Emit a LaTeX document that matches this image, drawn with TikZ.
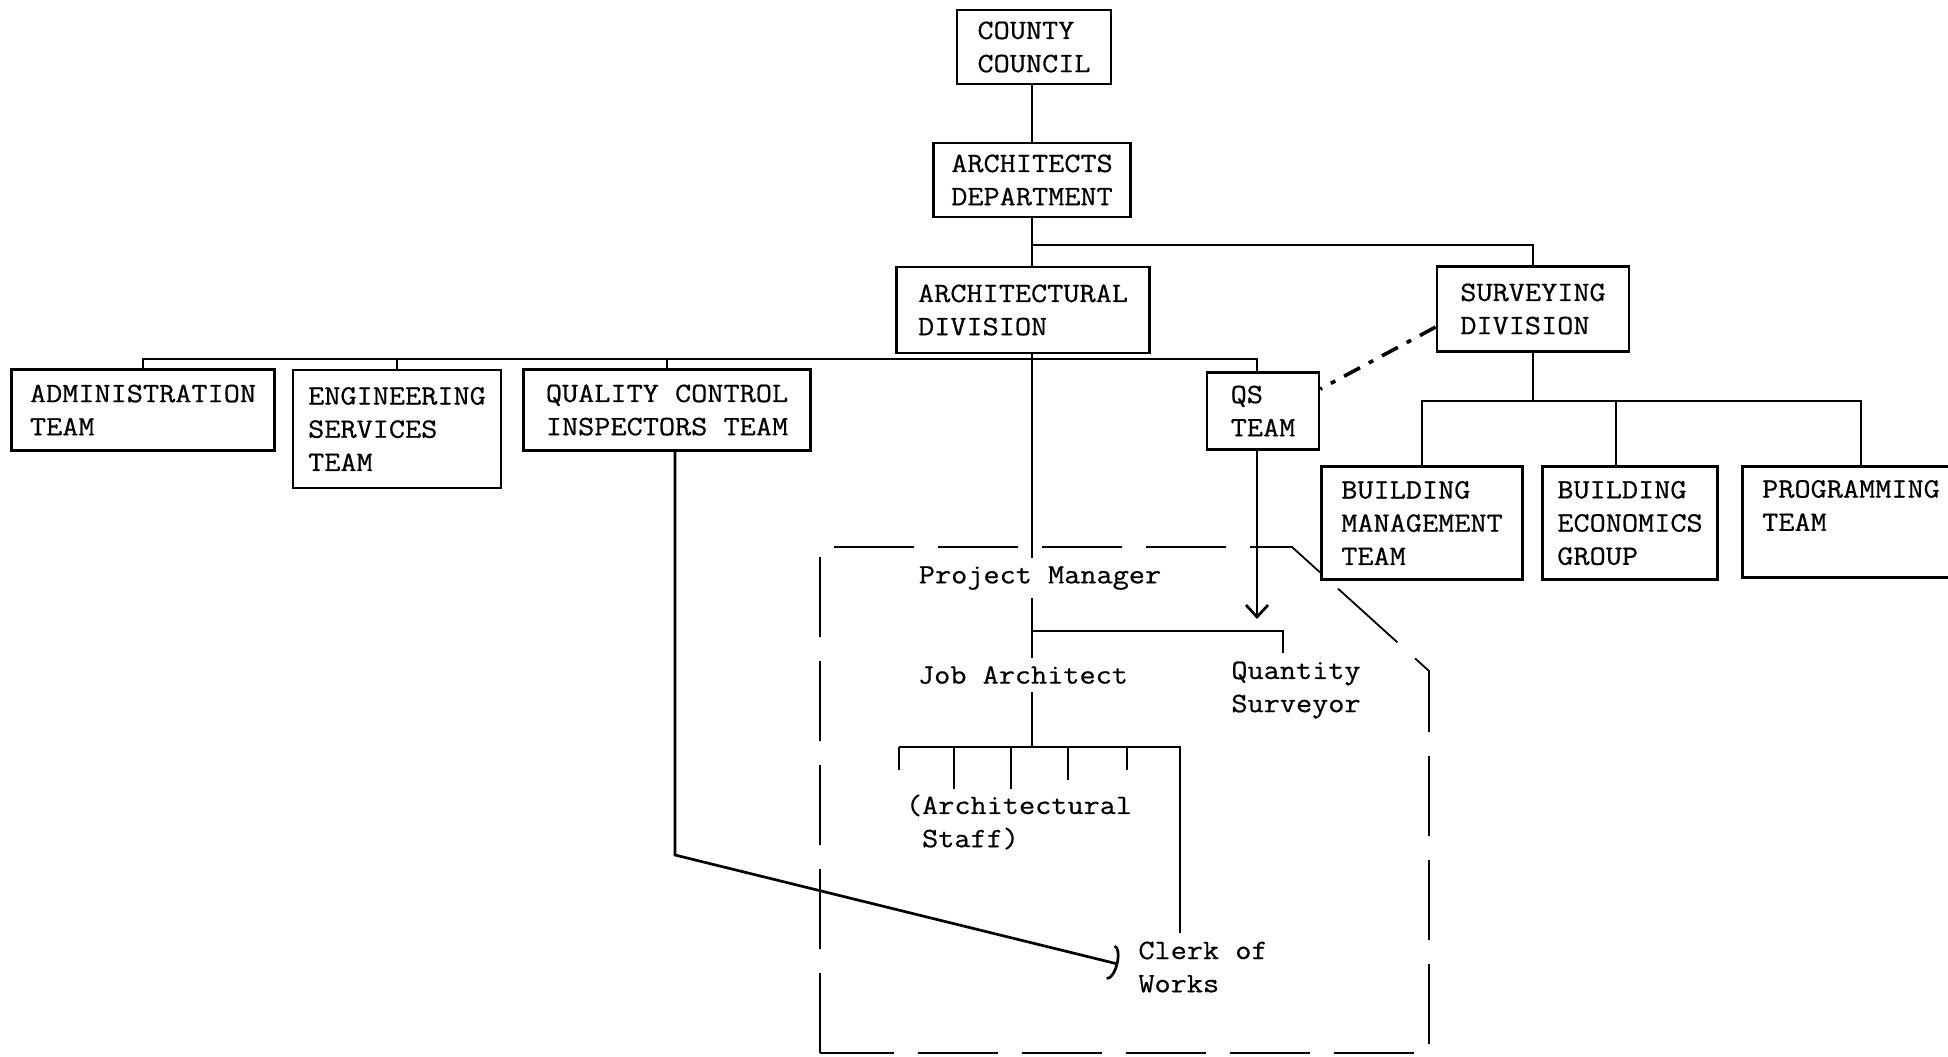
\documentclass[tikz,border=0pt]{standalone}
\usepackage{fontspec}
\usepackage{tikz}
\usetikzlibrary{calc,arrows.meta}
\newfontfamily\typew[FakeStretch=1.12,FakeBold=0.6]{Latin Modern Mono}
\def\typeface{\typew\fontsize{14}{16.6}\selectfont}
\tikzset{
	unit/.style={draw, line width=1.3pt, fill=white, align=left, inner sep=0pt, font=\typeface},
	post/.style={align=left, inner sep=4pt, font=\typeface},
	link/.style={line width=1.35pt},
	fence/.style={line width=0.9pt, dash pattern=on 40pt off 12pt},
	liaison/.style={line width=1.8pt, dash pattern=on 9pt off 5pt on 2.5pt off 5pt},
	down tip/.style={-{Straight Barb[length=6pt,width=11pt]}},
	arc tip/.style={-{Arc Barb[length=4pt,width=18pt]}}
}

\begin{document}
\begin{tikzpicture}[x=0.5pt, y=-0.5pt]
			\useasboundingbox (0,0) rectangle (1948,1056);
			
			%%%%% PROJECT TEAM FENCE %%%%%
			\draw[fence] (820,1053) -- (820,547) -- (1292,547) -- (1429,671) -- (1429,1053) -- cycle;
			
			%%%%% BOXES %%%%%
			\node[unit, minimum width=77pt, minimum height=37pt] (cc) at (1034, 47) {COUNTY\\COUNCIL};
			\node[unit, minimum width=98.5pt, minimum height=37pt] (ad) at (1032, 180) {ARCHITECTS\\DEPARTMENT};
			\node[unit, minimum width=126.5pt, minimum height=43pt] (archdiv) at (1023, 310) {ARCHITECTURAL\\DIVISION};
			\node[unit, minimum width=96pt, minimum height=42.5pt] (surv) at (1533, 309) {SURVEYING\\DIVISION};
			
			\node[unit, minimum width=131.5pt, minimum height=40.5pt] (admin) at (143, 410) {ADMINISTRATION\\TEAM};
			\node[unit, minimum width=104pt, minimum height=59pt] (eng) at (397, 429) {ENGINEERING\\SERVICES\\TEAM};
			\node[unit, minimum width=143.5pt, minimum height=40.5pt] (qc) at (667, 410) {QUALITY CONTROL\\INSPECTORS TEAM};
			\node[unit, minimum width=56pt, minimum height=38.5pt] (qs) at (1263, 411) {QS\\TEAM};
			
			\node[unit, minimum width=100.5pt, minimum height=56.5pt] (bm) at (1422, 523) {BUILDING\\MANAGEMENT\\TEAM};
			\node[unit, minimum width=87.5pt, minimum height=56.5pt] (be) at (1630, 523) {BUILDING\\ECONOMICS\\GROUP};
			\node[unit, minimum width=108.5pt, minimum height=55.5pt] (prog) at (1851, 522) {PROGRAMMING\\TEAM\\\mbox{}};
			
			%%%%% PROJECT POSTS %%%%%
			\node[post] (pm) at (1040, 578) {Project Manager};
			\node[post] (ja) at (1023, 675) {Job Architect};
			\node[post] (qsurv) at (1296, 690) {Quantity\\Surveyor};
			\node[post] (staff) at (1019, 822) {(Architectural\\\hphantom{(}Staff)};
			\node[post] (clerk) at (1203, 967) {Clerk of\\Works};
			
			\coordinate (deptbus) at (0, 245);
			\coordinate (divbus) at (0, 359);
			\coordinate (survbus) at (0, 401);
			\coordinate (pmfork) at (0, 631);
			\coordinate (barl) at (899, 747);
			\coordinate (barr) at (1180, 747);
			\coordinate (qcbend) at (675, 855);
			\path ($(qs.south)+(-6,0)$) coordinate (qsout);
			\path ($(qs.north)+(-6,0)$) coordinate (qsin);
			\path ($(be.north)+(-14,0)$) coordinate (bein);
			\path ($(prog.north)+(10,0)$) coordinate (progin);
			\path ($(qsurv.north)+(-13,0)$) coordinate (qsurvin);
			
			%%%%% LINES %%%%%
			\draw[link] (cc.south -| ad) -- (ad.north);
			\draw[link] (ad.south) -- (ad.south |- archdiv.north);
			\draw[link] (deptbus -| ad) -| (surv.north);
			
			\draw[link] (admin.north) |- (divbus -| ad) -| (qsin);
			\draw[link] (eng.north) -- (eng.north |- divbus);
			\draw[link] (qc.north) -- (qc.north |- divbus);
			\draw[link] (archdiv.south -| ad) -- (pm.north -| ad);
			
			\draw[link] (surv.south) -- (surv.south |- survbus);
			\draw[link] (bm.north) |- (progin |- survbus) -- (progin);
			\draw[link] (bein) -- (bein |- survbus);
			
			\draw[liaison] ($(surv.west)+(0,18)$) -- ($(qs.east)+(0,-22)$);
			
			\draw[link] (pm.south -| ad) -- (ja.north -| ad);
			\draw[link] (pmfork -| ad) -| (qsurvin);
			\draw[link, down tip, shorten >=6pt] (qsout) -- (qsout |- pmfork);
			
			\draw[link] (ja.south -| ad) -- (ad |- barl);
			\draw[link] (barl) -- (barr) -- (barr |- clerk.north);
			\foreach \x/\len in {0/23, 55/42, 112/42, 169/33, 228/23}
				\draw[link] ($(barl)+(\x,0)$) -- ++(0,\len);
			
			\draw[link, arc tip, shorten >=6pt] (qc.south -| qcbend) -- (qcbend) -- (clerk.west);
			
\end{tikzpicture}
\end{document}
